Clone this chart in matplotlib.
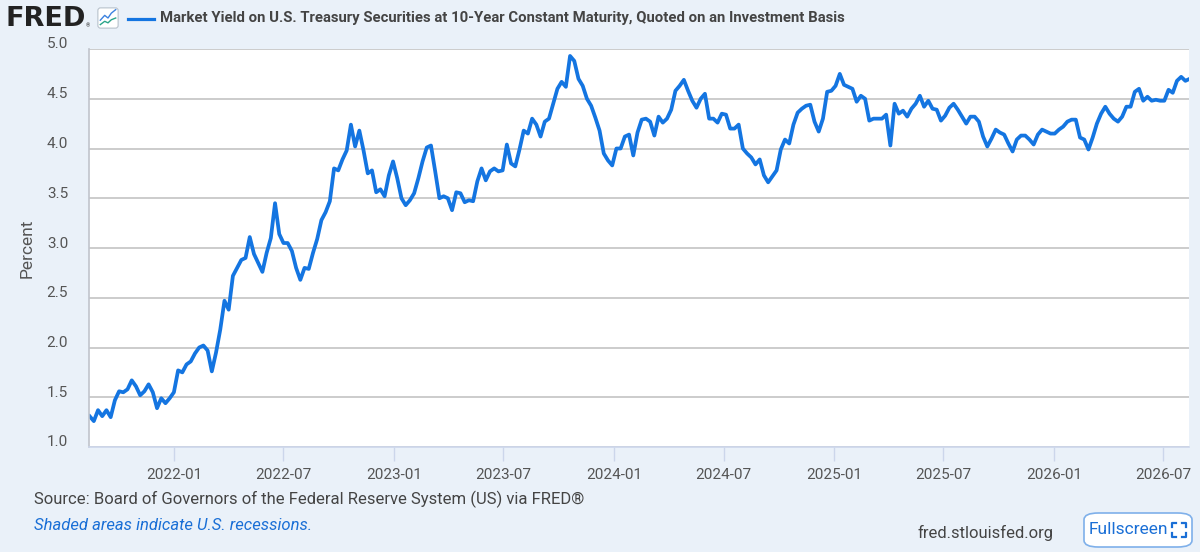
import matplotlib.pyplot as plt
import matplotlib.dates as mdates
from matplotlib.patches import FancyBboxPatch
from matplotlib.lines import Line2D
from matplotlib.transforms import ScaledTranslation
import pandas as pd

plt.rcParams['font.family'] = ['Roboto', 'DejaVu Sans']

series_name = ('Market Yield on U.S. Treasury Securities at 10-Year Constant '
               'Maturity, Quoted on an Investment Basis')
source_text = 'Source: Board of Governors of the Federal Reserve System (US) via FRED®'
note_text = 'Shaded areas indicate U.S. recessions.'
site_text = 'fred.stlouisfed.org'

# weekly readings (Fridays) starting 2021-08-13, percent
start_date = '2021-08-13'
yields = [
    1.31, 1.26, 1.37, 1.31, 1.37, 1.30, 1.47, 1.56, 1.55, 1.58, 1.67, 1.61, 1.52,
    1.56, 1.63, 1.55, 1.39, 1.49, 1.44, 1.49, 1.55, 1.77, 1.75, 1.83, 1.86, 1.94,
    2.00, 2.02, 1.97, 1.76, 1.95, 2.18, 2.47, 2.38, 2.72, 2.80, 2.88, 2.90, 3.11,
    2.94, 2.85, 2.76, 2.95, 3.10, 3.45, 3.14, 3.05, 3.05, 2.97, 2.80, 2.68, 2.80,
    2.79, 2.95, 3.09, 3.28, 3.36, 3.47, 3.80, 3.78, 3.89, 3.98, 4.24, 4.02, 4.18,
    3.98, 3.75, 3.78, 3.56, 3.59, 3.52, 3.73, 3.87, 3.70, 3.50, 3.43, 3.48, 3.55,
    3.70, 3.87, 4.01, 4.03, 3.77, 3.50, 3.52, 3.50, 3.38, 3.56, 3.55, 3.46, 3.48,
    3.47, 3.67, 3.80, 3.68, 3.77, 3.80, 3.77, 3.78, 4.04, 3.85, 3.82, 3.99, 4.18,
    4.15, 4.30, 4.24, 4.12, 4.27, 4.30, 4.45, 4.60, 4.67, 4.62, 4.93, 4.88, 4.70,
    4.63, 4.50, 4.43, 4.31, 4.18, 3.95, 3.88, 3.83, 4.00, 4.00, 4.12, 4.14, 3.93,
    4.16, 4.29, 4.30, 4.27, 4.13, 4.32, 4.26, 4.30, 4.39, 4.58, 4.63, 4.69, 4.58,
    4.48, 4.41, 4.50, 4.55, 4.30, 4.30, 4.26, 4.35, 4.34, 4.20, 4.20, 4.24, 4.00,
    3.95, 3.91, 3.84, 3.89, 3.73, 3.66, 3.72, 3.78, 3.99, 4.09, 4.05, 4.24, 4.36,
    4.40, 4.43, 4.44, 4.27, 4.17, 4.30, 4.57, 4.58, 4.63, 4.75, 4.64, 4.62, 4.60,
    4.47, 4.53, 4.50, 4.28, 4.30, 4.30, 4.30, 4.34, 4.03, 4.45, 4.35, 4.38, 4.32,
    4.40, 4.45, 4.53, 4.42, 4.48, 4.40, 4.39, 4.28, 4.33, 4.41, 4.45, 4.39, 4.32,
    4.25, 4.32, 4.32, 4.27, 4.12, 4.02, 4.10, 4.19, 4.16, 4.14, 4.05, 3.97, 4.09,
    4.13, 4.13, 4.09, 4.04, 4.14, 4.19, 4.17, 4.15, 4.15, 4.19, 4.22, 4.27, 4.29,
    4.29, 4.11, 4.09, 3.99, 4.11, 4.25, 4.35, 4.42, 4.35, 4.30, 4.27, 4.32, 4.42,
    4.42, 4.57, 4.60, 4.48, 4.52, 4.48, 4.49, 4.48, 4.48, 4.59, 4.56, 4.68, 4.72,
    4.68, 4.70,
]
y_ticks = [1.0, 1.5, 2.0, 2.5, 3.0, 3.5, 4.0, 4.5, 5.0]
x_range = ['2021-08-12', '2026-08-13']

dates = pd.date_range(start_date, periods=len(yields), freq='7D')

W, H = 1200, 552
bg = '#eaf1f9'
line_color = '#1475e1'
text_color = '#444444'

fig = plt.figure(figsize=(W / 100, H / 100), dpi=100, facecolor=bg)


def fx(px):
    return px / W


def fy(py):
    return 1 - py / H


ax = fig.add_axes([fx(89), fy(447), fx(1189) - fx(89), fy(49) - fy(447)])
ax.set_facecolor('white')
ax.plot(dates, yields, color=line_color, lw=2.7, solid_joinstyle='round')

ax.set_ylim(1.0, 5.0)
ax.set_yticks(y_ticks)
ax.set_yticklabels([f'{v:.1f}' for v in y_ticks])
ax.set_xlim(pd.Timestamp(x_range[0]), pd.Timestamp(x_range[1]))
ax.xaxis.set_major_locator(mdates.MonthLocator(bymonth=[1, 7]))
ax.xaxis.set_major_formatter(mdates.DateFormatter('%Y-%m'))

ax.grid(axis='y', color='#c8c8c8', lw=1.3)
ax.set_axisbelow(True)
for s in ['top', 'right']:
    ax.spines[s].set_visible(False)
ax.spines['left'].set_color('#c0c4cc')
ax.spines['bottom'].set_color('#ccd6eb')
ax.spines['left'].set_linewidth(1.2)
ax.spines['bottom'].set_linewidth(1.2)

ax.tick_params(axis='y', length=0, pad=15, labelsize=11, labelcolor='#555555')
ax.tick_params(axis='x', length=10, width=1, color='#ccd6eb', pad=5,
               labelsize=11, labelcolor='#555555')
# FRED sets the y labels a little above their gridlines
shift = ScaledTranslation(0, 6 / 100, fig.dpi_scale_trans)
for lab in ax.get_yticklabels():
    lab.set_transform(lab.get_transform() + shift)
fig.text(fx(27), fy(248), 'Percent', fontsize=12.5, color='#555555',
         rotation=90, ha='center', va='center')

# header: logo, icon, legend line and series title
fig.text(fx(6), fy(19), 'FRED', fontsize=19.5, fontweight='heavy',
         family='DejaVu Sans', color='#222222', va='center', ha='left')
fig.text(fx(86), fy(26), '®', fontsize=4, color='#222222', va='center')
icon = fig.add_axes([fx(97), fy(29), fx(22), fy(7) - fy(29)])
icon.set_xlim(0, 1)
icon.set_ylim(0, 1)
icon.axis('off')
icon.add_patch(FancyBboxPatch((0.04, 0.04), 0.92, 0.92, boxstyle='round,pad=0,rounding_size=0.12',
                              fc='white', ec='#b8c2cc', lw=0.8))
icon.plot([0.15, 0.35, 0.5, 0.65, 0.85], [0.4, 0.62, 0.5, 0.72, 0.88], color='#3b82e0', lw=1)
icon.plot([0.15, 0.35, 0.5, 0.65, 0.85], [0.2, 0.35, 0.28, 0.42, 0.5], color='#2aa58a', lw=1)
fig.add_artist(Line2D([fx(128), fx(154)], [fy(19), fy(19)], color=line_color, lw=2.3))
fig.text(fx(160), fy(18), series_name, fontsize=10.75, fontweight='bold',
         color=text_color, va='center', ha='left')

# footer
fig.text(fx(34), fy(499), source_text, fontsize=12, color=text_color, va='center')
fig.text(fx(34), fy(525), note_text, fontsize=12, color='#1a6fd6',
         style='italic', va='center')
fig.text(fx(918), fy(533), site_text, fontsize=12, color=text_color, va='center')

fig.add_artist(FancyBboxPatch((fx(1084), fy(547)), fx(1192) - fx(1084), fy(513) - fy(547),
                              boxstyle='round,pad=0,rounding_size=0.012',
                              fc='white', ec='#7fb0ea', lw=1.2, transform=fig.transFigure))
fig.text(fx(1089), fy(530), 'Fullscreen', fontsize=12.5, color='#1a6fd6', va='center')
# corner-bracket icon
cx0, cx1, cy0, cy1, k = 1172, 1186, 523, 537, 4
for (px, py, dx, dy) in [(cx0, cy0, 1, 1), (cx1, cy0, -1, 1), (cx0, cy1, 1, -1), (cx1, cy1, -1, -1)]:
    fig.add_artist(Line2D([fx(px), fx(px), fx(px + dx * k)],
                          [fy(py + dy * k), fy(py), fy(py)], color='#1a6fd6', lw=1.6))

fig.savefig('out.png', dpi=100, facecolor=bg)
